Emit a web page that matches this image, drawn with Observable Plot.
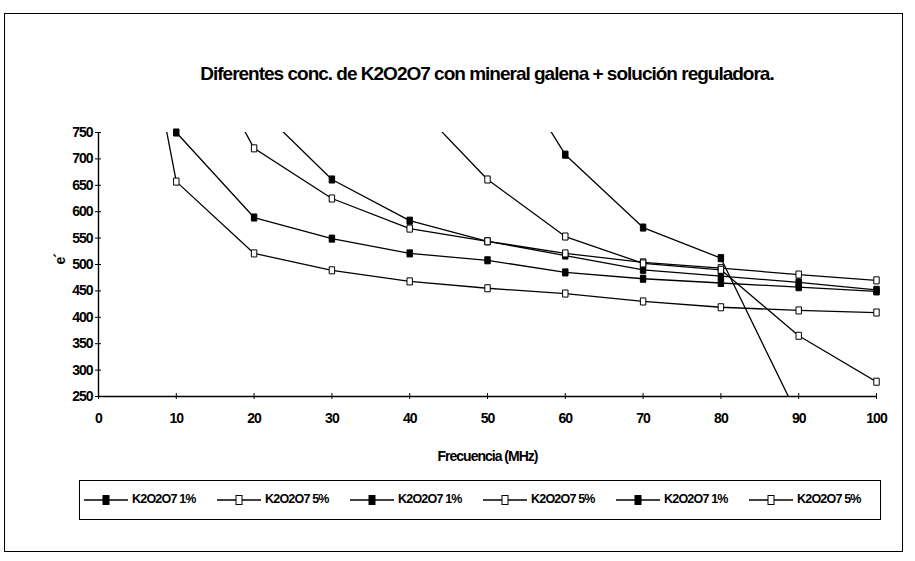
<!DOCTYPE html>
<html>
<head>
<meta charset="utf-8">
<script src="https://cdn.jsdelivr.net/npm/d3@7"></script>
<script src="https://cdn.jsdelivr.net/npm/@observablehq/plot@0.6"></script>
<style>
  body { margin: 0; background: #fff; }
  #wrap { position: relative; width: 915px; height: 561px; overflow: hidden; font-family: "Liberation Sans", Arial, sans-serif; color: #000; }
  #border { position: absolute; left: 4px; top: 13px; width: 899px; height: 539px; border: 1.2px solid #000; box-sizing: border-box; }
  #title { position: absolute; left: 0; top: 63px; width: 974px; text-align: center; font-size: 19px; font-weight: bold; letter-spacing: -1px; white-space: nowrap; }
  #chart { position: absolute; left: 0; top: 100px; }
  #legend { position: absolute; left: 79px; top: 480px; width: 802px; height: 40px; border: 1.2px solid #000; box-sizing: border-box; }
  .item { position: absolute; top: 0; height: 38px; }
  .item svg { position: absolute; top: 12px; left: 0; }
  .item span { position: absolute; top: 11px; font-size: 12.5px; font-weight: bold; letter-spacing: -0.8px; white-space: nowrap; }
</style>
</head>
<body>
<div id="wrap">
  <div id="border"></div>
  <div id="title"></div>
  <div id="chart"></div>
  <div id="legend"></div>
</div>
<script>
// ---- data ----
const titleText = "Diferentes conc. de K2O2O7 con mineral galena + solución reguladora.";
const xLabel = "Frecuencia (MHz)";
const yLabel = "e´";
const xTicks = [0, 10, 20, 30, 40, 50, 60, 70, 80, 90, 100];
const yTicks = [250, 300, 350, 400, 450, 500, 550, 600, 650, 700, 750];

const seriesNames = ["K2O2O7 1%", "K2O2O7 5%", "K2O2O7 1%", "K2O2O7 5%", "K2O2O7 1%", "K2O2O7 5%"];
const seriesFilled = [true, false, true, false, true, false];

const s1Freq = [10, 20, 30, 40, 50, 60, 70, 80, 90, 100];
const s1Vals = [750, 589, 549, 521, 508, 485, 473, 465, 457, 449];

const s2Freq = [5, 10, 20, 30, 40, 50, 60, 70, 80, 90, 100];
const s2Vals = [1040, 657, 521, 489, 468, 455, 445, 430, 419, 413, 409];

const s3Freq = [20, 30, 40, 50, 60, 70, 80, 90, 100];
const s3Vals = [805, 661, 583, 544, 517, 490, 478, 466, 452];

const s4Freq = [10, 20, 30, 40, 50, 60, 70, 80, 90, 100];
const s4Vals = [990, 720, 625, 568, 544, 521, 504, 493, 481, 470];

const s5Freq = [50, 60, 70, 80, 90];
const s5Vals = [945, 708, 570, 512, 210];

const s6Freq = [40, 50, 60, 70, 80, 90, 100];
const s6Vals = [815, 661, 553, 502, 490, 365, 278];

const seriesFreq = [s1Freq, s2Freq, s3Freq, s4Freq, s5Freq, s6Freq];
const seriesVals = [s1Vals, s2Vals, s3Vals, s4Vals, s5Vals, s6Vals];

// ---- build table ----
const rows = [];
seriesFreq.forEach((fs, i) => fs.forEach((f, j) => rows.push({s: i, f, v: seriesVals[i][j], fill: seriesFilled[i] ? "#000" : "#fff"})));
const visible = rows.filter(d => d.v >= 250 && d.v <= 752);

document.getElementById("title").textContent = titleText;

// slightly tall square marker, like the scanned original
const tallSquare = {
  draw(context, size) {
    const w = Math.sqrt(size) * 0.85;
    const h = w * 1.3;
    context.rect(-w / 2, -h / 2, w, h);
  }
};

const font = {fontFamily: "'Liberation Sans', Arial, sans-serif", fontSize: "14px", fontWeight: "bold", color: "#000", background: "transparent", overflow: "visible", letterSpacing: "-1px"};

const chart = Plot.plot({
  width: 915,
  height: 375,
  marginLeft: 98,
  marginRight: 39,
  marginTop: 32,
  marginBottom: 79,
  x: {domain: [0, 100]},
  y: {domain: [250, 750]},
  style: font,
  marks: [
    Plot.axisX({ticks: xTicks, tickSize: 3, tickPadding: 14, label: null, tickFormat: d => String(d)}),
    Plot.axisX({ticks: xTicks, tickSize: -3, label: null, tickFormat: () => ""}),
    Plot.axisY({ticks: yTicks, tickSize: 3, tickPadding: 3, label: null, tickFormat: d => String(d)}),
    Plot.axisY({ticks: yTicks, tickSize: -3, label: null, tickFormat: () => ""}),
    Plot.ruleY([250], {stroke: "#000", strokeWidth: 1.4}),
    Plot.ruleX([0], {stroke: "#000", strokeWidth: 1.4}),
    Plot.line(rows, {x: "f", y: "v", z: "s", stroke: "#000", strokeWidth: 1.3, clip: true}),
    Plot.dot(visible, {x: "f", y: "v", symbol: tallSquare, r: 3.6, fill: "fill", stroke: "#000", strokeWidth: 1}),
    Plot.text([xLabel], {frameAnchor: "bottom", dy: 64, fontSize: 14, fontWeight: "bold"}),
    Plot.text([yLabel], {frameAnchor: "left", dx: -38, rotate: -90, fontSize: 14, fontWeight: "bold"})
  ]
});
document.getElementById("chart").appendChild(chart);

// ---- legend ----
const legend = document.getElementById("legend");
seriesNames.forEach((name, i) => {
  const x0 = 4 + i * 133;
  const item = document.createElement("div");
  item.className = "item";
  item.style.left = x0 + "px";
  const fill = seriesFilled[i] ? "#000" : "#fff";
  item.innerHTML = `<svg width="46" height="14"><line x1="0" y1="7" x2="44" y2="7" stroke="#000" stroke-width="1.3"/><rect x="19" y="2.5" width="6" height="9" fill="${fill}" stroke="#000" stroke-width="1"/></svg><span style="left:48px">${name}</span>`;
  legend.appendChild(item);
});
</script>
</body>
</html>
